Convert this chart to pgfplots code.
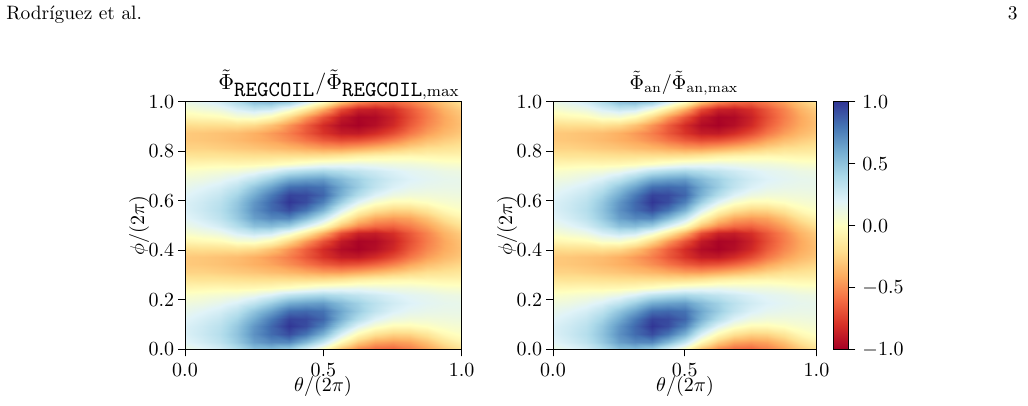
\documentclass[border=0pt]{standalone}
\usepackage{pgfplots}
\pgfplotsset{compat=1.18}
\usepackage{pgfplotstable}

\pgfplotsset{
  colormap={rdylbu}{rgb255=(165,0,38) rgb255=(215,48,39) rgb255=(244,109,67) rgb255=(253,174,97) rgb255=(254,224,144) rgb255=(255,255,191) rgb255=(224,243,248) rgb255=(171,217,233) rgb255=(116,173,209) rgb255=(69,117,180) rgb255=(49,54,149)},
  hm/.style={
    scale only axis, height=123.9pt,
    xmin=0, xmax=1, ymin=0, ymax=1,
    view={0}{90},
    colormap name=rdylbu,
    point meta min=-1, point meta max=1,
    xtick={0,0.5,1}, ytick={0,0.2,0.4,0.6,0.8,1}, ztick=\empty,
    tick align=outside, tick pos=left,
    major tick length=3.4pt,
    xticklabel style={/pgf/number format/fixed, /pgf/number format/fixed zerofill, /pgf/number format/precision=1},
    yticklabel style={xshift=1.5pt, /pgf/number format/fixed, /pgf/number format/fixed zerofill, /pgf/number format/precision=1},
    tick label style={font=\fontsize{9.6}{10}\selectfont},
    axis on top,
    axis line style={line width=0.5pt},
    every tick/.style={black, line width=0.5pt},
  },
}

\pgfplotstableread{
x y z
0 0 0.13
0.0625 0 0.18
0.125 0 0.25
0.1875 0 0.37
0.25 0 0.51
0.3125 0 0.53
0.375 0 0.45
0.4375 0 0.23
0.5 0 0.00
0.5625 0 -0.32
0.625 0 -0.52
0.6875 0 -0.61
0.75 0 -0.63
0.8125 0 -0.55
0.875 0 -0.44
0.9375 0 -0.30
1 0 -0.18
0 0.03125 0.19
0.0625 0.03125 0.25
0.125 0.03125 0.33
0.1875 0.03125 0.47
0.25 0.03125 0.65
0.3125 0.03125 0.73
0.375 0.03125 0.74
0.4375 0.03125 0.55
0.5 0.03125 0.31
0.5625 0.03125 -0.03
0.625 0.03125 -0.28
0.6875 0.03125 -0.42
0.75 0.03125 -0.46
0.8125 0.03125 -0.43
0.875 0.03125 -0.32
0.9375 0.03125 -0.18
1 0.03125 -0.07
0 0.0625 0.22
0.0625 0.0625 0.28
0.125 0.0625 0.36
0.1875 0.0625 0.50
0.25 0.0625 0.70
0.3125 0.0625 0.83
0.375 0.0625 0.93
0.4375 0.0625 0.80
0.5 0.0625 0.58
0.5625 0.0625 0.23
0.625 0.0625 -0.03
0.6875 0.0625 -0.18
0.75 0.0625 -0.25
0.8125 0.0625 -0.24
0.875 0.0625 -0.16
0.9375 0.0625 -0.04
1 0.0625 0.02
0 0.09375 0.22
0.0625 0.09375 0.27
0.125 0.09375 0.34
0.1875 0.09375 0.48
0.25 0.09375 0.68
0.3125 0.09375 0.84
0.375 0.09375 1.00
0.4375 0.09375 0.93
0.5 0.09375 0.76
0.5625 0.09375 0.45
0.625 0.09375 0.20
0.6875 0.09375 0.05
0.75 0.09375 -0.03
0.8125 0.09375 -0.03
0.875 0.09375 0.01
0.9375 0.09375 0.05
1 0.09375 0.07
0 0.125 0.19
0.0625 0.125 0.24
0.125 0.125 0.30
0.1875 0.125 0.42
0.25 0.125 0.60
0.3125 0.125 0.78
0.375 0.125 0.96
0.4375 0.125 0.94
0.5 0.125 0.85
0.5625 0.125 0.58
0.625 0.125 0.37
0.6875 0.125 0.21
0.75 0.125 0.12
0.8125 0.125 0.09
0.875 0.125 0.09
0.9375 0.125 0.10
1 0.125 0.11
0 0.15625 0.15
0.0625 0.15625 0.19
0.125 0.15625 0.24
0.1875 0.15625 0.33
0.25 0.15625 0.49
0.3125 0.15625 0.64
0.375 0.15625 0.82
0.4375 0.15625 0.84
0.5 0.15625 0.81
0.5625 0.15625 0.62
0.625 0.15625 0.46
0.6875 0.15625 0.32
0.75 0.15625 0.22
0.8125 0.15625 0.17
0.875 0.15625 0.15
0.9375 0.15625 0.14
1 0.15625 0.14
0 0.1875 0.10
0.0625 0.1875 0.12
0.125 0.1875 0.16
0.1875 0.1875 0.22
0.25 0.1875 0.32
0.3125 0.1875 0.45
0.375 0.1875 0.60
0.4375 0.1875 0.64
0.5 0.1875 0.66
0.5625 0.1875 0.54
0.625 0.1875 0.44
0.6875 0.1875 0.34
0.75 0.1875 0.26
0.8125 0.1875 0.21
0.875 0.1875 0.18
0.9375 0.1875 0.16
1 0.1875 0.15
0 0.21875 0.03
0.0625 0.21875 0.05
0.125 0.21875 0.07
0.1875 0.21875 0.09
0.25 0.21875 0.14
0.3125 0.21875 0.22
0.375 0.21875 0.33
0.4375 0.21875 0.38
0.5 0.21875 0.41
0.5625 0.21875 0.37
0.625 0.21875 0.32
0.6875 0.21875 0.27
0.75 0.21875 0.22
0.8125 0.21875 0.18
0.875 0.21875 0.16
0.9375 0.21875 0.13
1 0.21875 0.12
0 0.25 -0.06
0.0625 0.25 -0.05
0.125 0.25 -0.04
0.1875 0.25 -0.05
0.25 0.25 -0.04
0.3125 0.25 -0.02
0.375 0.25 0.02
0.4375 0.25 0.07
0.5 0.25 0.12
0.5625 0.25 0.14
0.625 0.25 0.15
0.6875 0.25 0.13
0.75 0.25 0.11
0.8125 0.25 0.10
0.875 0.25 0.08
0.9375 0.25 0.05
1 0.25 0.04
0 0.28125 -0.16
0.0625 0.28125 -0.17
0.125 0.28125 -0.17
0.1875 0.28125 -0.18
0.25 0.28125 -0.19
0.3125 0.28125 -0.19
0.375 0.28125 -0.19
0.4375 0.28125 -0.19
0.5 0.28125 -0.18
0.5625 0.28125 -0.15
0.625 0.28125 -0.10
0.6875 0.28125 -0.07
0.75 0.28125 -0.05
0.8125 0.28125 -0.04
0.875 0.28125 -0.05
0.9375 0.28125 -0.06
1 0.28125 -0.06
0 0.3125 -0.25
0.0625 0.3125 -0.25
0.125 0.3125 -0.27
0.1875 0.3125 -0.29
0.25 0.3125 -0.31
0.3125 0.3125 -0.34
0.375 0.3125 -0.37
0.4375 0.3125 -0.41
0.5 0.3125 -0.45
0.5625 0.3125 -0.46
0.625 0.3125 -0.42
0.6875 0.3125 -0.37
0.75 0.3125 -0.31
0.8125 0.3125 -0.25
0.875 0.3125 -0.20
0.9375 0.3125 -0.18
1 0.3125 -0.15
0 0.34375 -0.29
0.0625 0.34375 -0.30
0.125 0.34375 -0.32
0.1875 0.34375 -0.35
0.25 0.34375 -0.39
0.3125 0.34375 -0.43
0.375 0.34375 -0.50
0.4375 0.34375 -0.58
0.5 0.34375 -0.66
0.5625 0.34375 -0.71
0.625 0.34375 -0.69
0.6875 0.34375 -0.63
0.75 0.34375 -0.54
0.8125 0.34375 -0.43
0.875 0.34375 -0.34
0.9375 0.34375 -0.28
1 0.34375 -0.23
0 0.375 -0.29
0.0625 0.375 -0.30
0.125 0.375 -0.32
0.1875 0.375 -0.34
0.25 0.375 -0.39
0.3125 0.375 -0.46
0.375 0.375 -0.55
0.4375 0.375 -0.67
0.5 0.375 -0.79
0.5625 0.375 -0.88
0.625 0.375 -0.89
0.6875 0.375 -0.82
0.75 0.375 -0.71
0.8125 0.375 -0.57
0.875 0.375 -0.45
0.9375 0.375 -0.36
1 0.375 -0.29
0 0.40625 -0.21
0.0625 0.40625 -0.20
0.125 0.40625 -0.20
0.1875 0.40625 -0.19
0.25 0.40625 -0.22
0.3125 0.40625 -0.32
0.375 0.40625 -0.48
0.4375 0.40625 -0.65
0.5 0.40625 -0.82
0.5625 0.40625 -0.95
0.625 0.40625 -0.99
0.6875 0.40625 -0.94
0.75 0.40625 -0.83
0.8125 0.40625 -0.66
0.875 0.40625 -0.52
0.9375 0.40625 -0.41
1 0.40625 -0.32
0 0.4375 -0.06
0.0625 0.4375 -0.04
0.125 0.4375 -0.02
0.1875 0.4375 0.05
0.25 0.4375 0.06
0.3125 0.4375 -0.03
0.375 0.4375 -0.23
0.4375 0.4375 -0.46
0.5 0.4375 -0.68
0.5625 0.4375 -0.89
0.625 0.4375 -0.98
0.6875 0.4375 -0.96
0.75 0.4375 -0.86
0.8125 0.4375 -0.70
0.875 0.4375 -0.55
0.9375 0.4375 -0.42
1 0.4375 -0.31
0 0.46875 0.05
0.0625 0.46875 0.09
0.125 0.46875 0.13
0.1875 0.46875 0.23
0.25 0.46875 0.30
0.3125 0.46875 0.27
0.375 0.46875 0.10
0.4375 0.46875 -0.13
0.5 0.46875 -0.39
0.5625 0.46875 -0.70
0.625 0.46875 -0.86
0.6875 0.46875 -0.88
0.75 0.46875 -0.81
0.8125 0.46875 -0.67
0.875 0.46875 -0.53
0.9375 0.46875 -0.38
1 0.46875 -0.27
0 0.5 0.13
0.0625 0.5 0.18
0.125 0.5 0.25
0.1875 0.5 0.37
0.25 0.5 0.51
0.3125 0.5 0.53
0.375 0.5 0.45
0.4375 0.5 0.23
0.5 0.5 0.00
0.5625 0.5 -0.32
0.625 0.5 -0.52
0.6875 0.5 -0.61
0.75 0.5 -0.63
0.8125 0.5 -0.55
0.875 0.5 -0.44
0.9375 0.5 -0.30
1 0.5 -0.18
0 0.53125 0.19
0.0625 0.53125 0.25
0.125 0.53125 0.33
0.1875 0.53125 0.47
0.25 0.53125 0.65
0.3125 0.53125 0.73
0.375 0.53125 0.74
0.4375 0.53125 0.55
0.5 0.53125 0.31
0.5625 0.53125 -0.03
0.625 0.53125 -0.28
0.6875 0.53125 -0.42
0.75 0.53125 -0.46
0.8125 0.53125 -0.43
0.875 0.53125 -0.32
0.9375 0.53125 -0.18
1 0.53125 -0.07
0 0.5625 0.22
0.0625 0.5625 0.28
0.125 0.5625 0.36
0.1875 0.5625 0.50
0.25 0.5625 0.70
0.3125 0.5625 0.83
0.375 0.5625 0.93
0.4375 0.5625 0.80
0.5 0.5625 0.58
0.5625 0.5625 0.23
0.625 0.5625 -0.03
0.6875 0.5625 -0.18
0.75 0.5625 -0.25
0.8125 0.5625 -0.24
0.875 0.5625 -0.16
0.9375 0.5625 -0.04
1 0.5625 0.02
0 0.59375 0.22
0.0625 0.59375 0.27
0.125 0.59375 0.34
0.1875 0.59375 0.48
0.25 0.59375 0.68
0.3125 0.59375 0.84
0.375 0.59375 1.00
0.4375 0.59375 0.93
0.5 0.59375 0.76
0.5625 0.59375 0.45
0.625 0.59375 0.20
0.6875 0.59375 0.05
0.75 0.59375 -0.03
0.8125 0.59375 -0.03
0.875 0.59375 0.01
0.9375 0.59375 0.05
1 0.59375 0.07
0 0.625 0.19
0.0625 0.625 0.24
0.125 0.625 0.30
0.1875 0.625 0.42
0.25 0.625 0.60
0.3125 0.625 0.78
0.375 0.625 0.96
0.4375 0.625 0.94
0.5 0.625 0.85
0.5625 0.625 0.58
0.625 0.625 0.37
0.6875 0.625 0.21
0.75 0.625 0.12
0.8125 0.625 0.09
0.875 0.625 0.09
0.9375 0.625 0.10
1 0.625 0.11
0 0.65625 0.15
0.0625 0.65625 0.19
0.125 0.65625 0.24
0.1875 0.65625 0.33
0.25 0.65625 0.49
0.3125 0.65625 0.64
0.375 0.65625 0.82
0.4375 0.65625 0.84
0.5 0.65625 0.81
0.5625 0.65625 0.62
0.625 0.65625 0.46
0.6875 0.65625 0.32
0.75 0.65625 0.22
0.8125 0.65625 0.17
0.875 0.65625 0.15
0.9375 0.65625 0.14
1 0.65625 0.14
0 0.6875 0.10
0.0625 0.6875 0.12
0.125 0.6875 0.16
0.1875 0.6875 0.22
0.25 0.6875 0.32
0.3125 0.6875 0.45
0.375 0.6875 0.60
0.4375 0.6875 0.64
0.5 0.6875 0.66
0.5625 0.6875 0.54
0.625 0.6875 0.44
0.6875 0.6875 0.34
0.75 0.6875 0.26
0.8125 0.6875 0.21
0.875 0.6875 0.18
0.9375 0.6875 0.16
1 0.6875 0.15
0 0.71875 0.03
0.0625 0.71875 0.05
0.125 0.71875 0.07
0.1875 0.71875 0.09
0.25 0.71875 0.14
0.3125 0.71875 0.22
0.375 0.71875 0.33
0.4375 0.71875 0.38
0.5 0.71875 0.41
0.5625 0.71875 0.37
0.625 0.71875 0.32
0.6875 0.71875 0.27
0.75 0.71875 0.22
0.8125 0.71875 0.18
0.875 0.71875 0.16
0.9375 0.71875 0.13
1 0.71875 0.12
0 0.75 -0.06
0.0625 0.75 -0.05
0.125 0.75 -0.04
0.1875 0.75 -0.05
0.25 0.75 -0.04
0.3125 0.75 -0.02
0.375 0.75 0.02
0.4375 0.75 0.07
0.5 0.75 0.12
0.5625 0.75 0.14
0.625 0.75 0.15
0.6875 0.75 0.13
0.75 0.75 0.11
0.8125 0.75 0.10
0.875 0.75 0.08
0.9375 0.75 0.05
1 0.75 0.04
0 0.78125 -0.16
0.0625 0.78125 -0.17
0.125 0.78125 -0.17
0.1875 0.78125 -0.18
0.25 0.78125 -0.19
0.3125 0.78125 -0.19
0.375 0.78125 -0.19
0.4375 0.78125 -0.19
0.5 0.78125 -0.18
0.5625 0.78125 -0.15
0.625 0.78125 -0.10
0.6875 0.78125 -0.07
0.75 0.78125 -0.05
0.8125 0.78125 -0.04
0.875 0.78125 -0.05
0.9375 0.78125 -0.06
1 0.78125 -0.06
0 0.8125 -0.25
0.0625 0.8125 -0.25
0.125 0.8125 -0.27
0.1875 0.8125 -0.29
0.25 0.8125 -0.31
0.3125 0.8125 -0.34
0.375 0.8125 -0.37
0.4375 0.8125 -0.41
0.5 0.8125 -0.45
0.5625 0.8125 -0.46
0.625 0.8125 -0.42
0.6875 0.8125 -0.37
0.75 0.8125 -0.31
0.8125 0.8125 -0.25
0.875 0.8125 -0.20
0.9375 0.8125 -0.18
1 0.8125 -0.15
0 0.84375 -0.29
0.0625 0.84375 -0.30
0.125 0.84375 -0.32
0.1875 0.84375 -0.35
0.25 0.84375 -0.39
0.3125 0.84375 -0.43
0.375 0.84375 -0.50
0.4375 0.84375 -0.58
0.5 0.84375 -0.66
0.5625 0.84375 -0.71
0.625 0.84375 -0.69
0.6875 0.84375 -0.63
0.75 0.84375 -0.54
0.8125 0.84375 -0.43
0.875 0.84375 -0.34
0.9375 0.84375 -0.28
1 0.84375 -0.23
0 0.875 -0.29
0.0625 0.875 -0.30
0.125 0.875 -0.32
0.1875 0.875 -0.34
0.25 0.875 -0.39
0.3125 0.875 -0.46
0.375 0.875 -0.55
0.4375 0.875 -0.67
0.5 0.875 -0.79
0.5625 0.875 -0.88
0.625 0.875 -0.89
0.6875 0.875 -0.82
0.75 0.875 -0.71
0.8125 0.875 -0.57
0.875 0.875 -0.45
0.9375 0.875 -0.36
1 0.875 -0.29
0 0.90625 -0.21
0.0625 0.90625 -0.20
0.125 0.90625 -0.20
0.1875 0.90625 -0.19
0.25 0.90625 -0.22
0.3125 0.90625 -0.32
0.375 0.90625 -0.48
0.4375 0.90625 -0.65
0.5 0.90625 -0.82
0.5625 0.90625 -0.95
0.625 0.90625 -0.99
0.6875 0.90625 -0.94
0.75 0.90625 -0.83
0.8125 0.90625 -0.66
0.875 0.90625 -0.52
0.9375 0.90625 -0.41
1 0.90625 -0.32
0 0.9375 -0.06
0.0625 0.9375 -0.04
0.125 0.9375 -0.02
0.1875 0.9375 0.05
0.25 0.9375 0.06
0.3125 0.9375 -0.03
0.375 0.9375 -0.23
0.4375 0.9375 -0.46
0.5 0.9375 -0.68
0.5625 0.9375 -0.89
0.625 0.9375 -0.98
0.6875 0.9375 -0.96
0.75 0.9375 -0.86
0.8125 0.9375 -0.70
0.875 0.9375 -0.55
0.9375 0.9375 -0.42
1 0.9375 -0.31
0 0.96875 0.05
0.0625 0.96875 0.09
0.125 0.96875 0.13
0.1875 0.96875 0.23
0.25 0.96875 0.30
0.3125 0.96875 0.27
0.375 0.96875 0.10
0.4375 0.96875 -0.13
0.5 0.96875 -0.39
0.5625 0.96875 -0.70
0.625 0.96875 -0.86
0.6875 0.96875 -0.88
0.75 0.96875 -0.81
0.8125 0.96875 -0.67
0.875 0.96875 -0.53
0.9375 0.96875 -0.38
1 0.96875 -0.27
0 1 0.13
0.0625 1 0.18
0.125 1 0.25
0.1875 1 0.37
0.25 1 0.51
0.3125 1 0.53
0.375 1 0.45
0.4375 1 0.23
0.5 1 0.00
0.5625 1 -0.32
0.625 1 -0.52
0.6875 1 -0.61
0.75 1 -0.63
0.8125 1 -0.55
0.875 1 -0.44
0.9375 1 -0.30
1 1 -0.18
}\phidata

\begin{document}
\begin{tikzpicture}[x=1pt,y=1pt]
\useasboundingbox (0,0) rectangle (514,203);
\node[anchor=base west, inner sep=0, font=\fontsize{9.7}{12}\selectfont] at (3,193) {Rodríguez et al.};
\node[anchor=base east, inner sep=0, font=\fontsize{9.7}{12}\selectfont] at (509,193) {3};

\begin{axis}[hm, at={(92.5pt,28.25pt)}, anchor=south west, width=138.35pt]
\addplot3[surf, shader=interp, mesh/rows=33, mesh/cols=17] table[x=x, y=y, z=z] {\phidata};
\end{axis}

\begin{axis}[hm, at={(276.5pt,28.25pt)}, anchor=south west, width=131.75pt,
  colorbar,
  colorbar style={
    at={(parent axis.north east)}, anchor=north west, xshift=0pt,
    scale only axis, width=7.5pt, height=123.9pt,
    ytick={-1,-0.5,0,0.5,1},
    yticklabel style={/pgf/number format/fixed, /pgf/number format/fixed zerofill, /pgf/number format/precision=1},
    tick label style={font=\fontsize{9.6}{10}\selectfont},
    tick align=outside, major tick length=3.4pt,
    ytick pos=right, yticklabel pos=right,
    axis line style={line width=0.5pt},
    every tick/.style={black, line width=0.5pt},
  }]
\addplot3[surf, shader=interp, mesh/rows=33, mesh/cols=17] table[x=x, y=y, z=z] {\phidata};
\end{axis}

\node[anchor=base, font=\fontsize{10.9}{13}\selectfont] at (169.5,158) {$\tilde{\Phi}_{\texttt{REGCOIL}}/\tilde{\Phi}_{\texttt{REGCOIL},\mathrm{max}}$};
\node[anchor=base, font=\fontsize{10}{12}\selectfont] at (342,158) {$\tilde{\Phi}_{\mathrm{an}}/\tilde{\Phi}_{\mathrm{an,max}}$};
\node[anchor=base, font=\fontsize{10}{12}\selectfont] at (161.5,7) {$\theta/(2\pi)$};
\node[anchor=base, font=\fontsize{10}{12}\selectfont] at (342.5,7) {$\theta/(2\pi)$};
\node[rotate=90, font=\fontsize{10}{12}\selectfont] at (69.5,90.2) {$\phi/(2\pi)$};
\node[rotate=90, font=\fontsize{10}{12}\selectfont] at (253.5,90.2) {$\phi/(2\pi)$};
\end{tikzpicture}
\end{document}
